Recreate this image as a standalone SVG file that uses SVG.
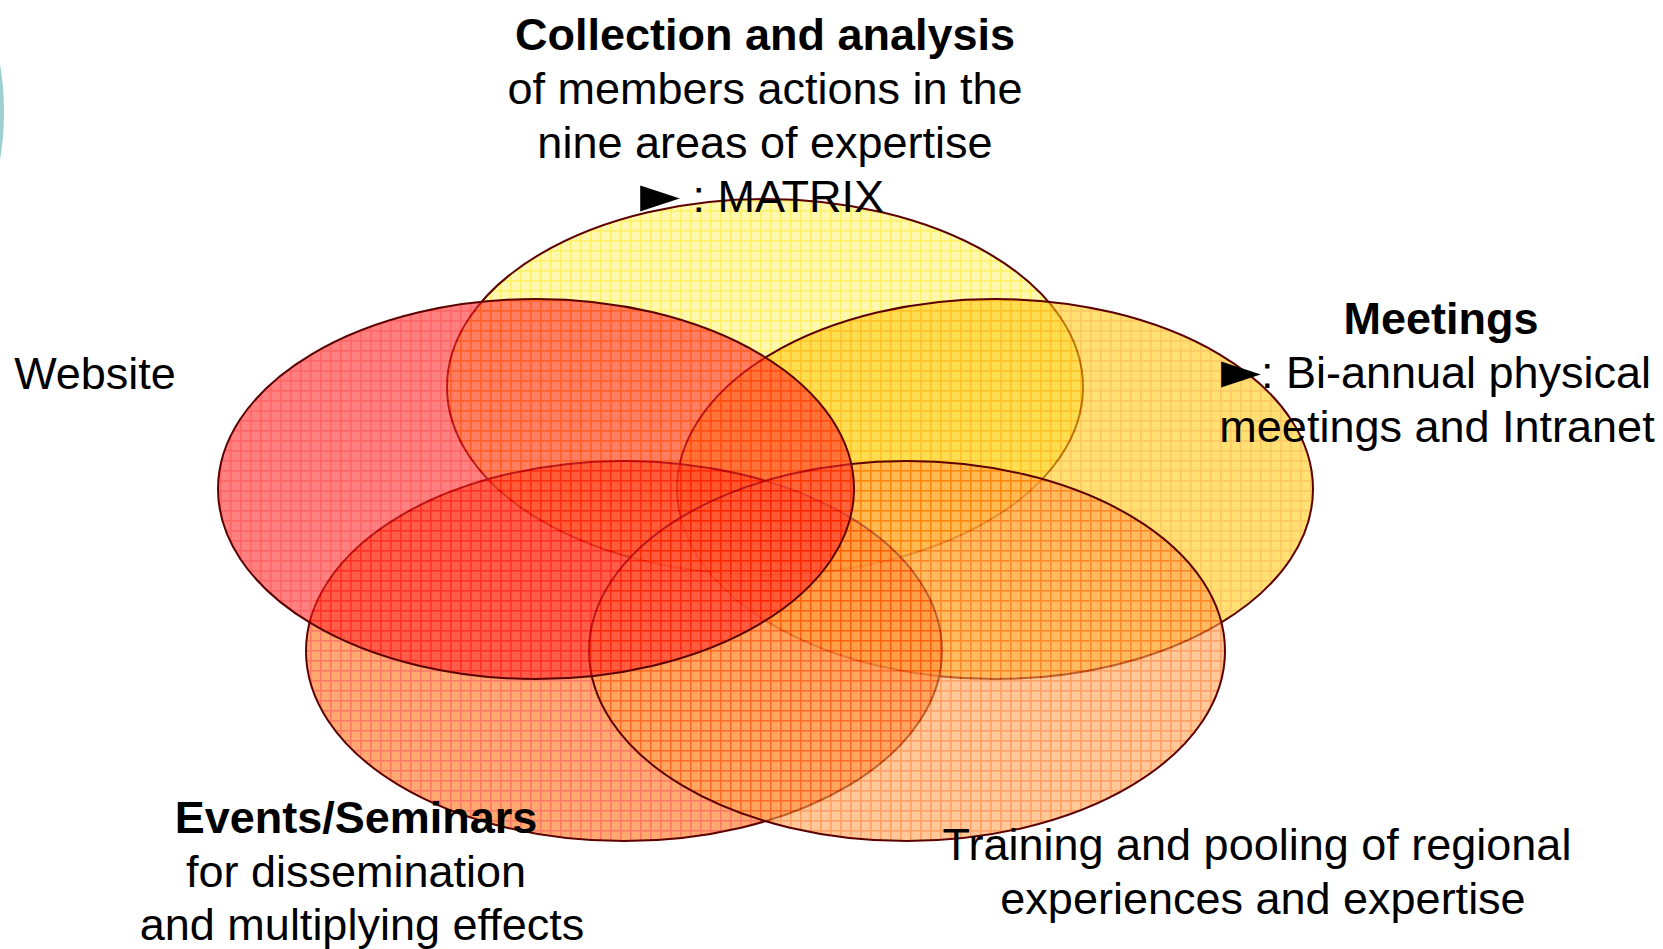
<svg xmlns="http://www.w3.org/2000/svg" width="1663" height="949" viewBox="0 0 1663 949">
  <defs>
    <pattern id="pCollection" patternUnits="userSpaceOnUse" width="10" height="10">
      <rect width="10" height="10" fill="#fff37b"/>
      <rect width="10" height="1.6" fill="#ffe600"/>
      <rect width="1.6" height="10" fill="#ffe600"/>
    </pattern>
    <pattern id="pWebsite" patternUnits="userSpaceOnUse" width="10" height="10">
      <rect width="10" height="10" fill="#ff2b2b"/>
      <rect width="10" height="1.6" fill="#ff0000"/>
      <rect width="1.6" height="10" fill="#ff0000"/>
    </pattern>
    <pattern id="pMeetings" patternUnits="userSpaceOnUse" width="10" height="10">
      <rect width="10" height="10" fill="#ffcb11"/>
      <rect width="10" height="1.6" fill="#ffa300"/>
      <rect width="1.6" height="10" fill="#ffa300"/>
    </pattern>
    <pattern id="pEvents" patternUnits="userSpaceOnUse" width="10" height="10">
      <rect width="10" height="10" fill="#ff6e11"/>
      <rect width="10" height="1.6" fill="#ff2100"/>
      <rect width="1.6" height="10" fill="#ff2100"/>
    </pattern>
    <pattern id="pTraining" patternUnits="userSpaceOnUse" width="10" height="10">
      <rect width="10" height="10" fill="#ffa353"/>
      <rect width="10" height="1.6" fill="#ff6100"/>
      <rect width="1.6" height="10" fill="#ff6100"/>
    </pattern>
  </defs>
  <style>
    .ell { fill-opacity: 0.6; stroke: #5c0000; stroke-width: 2; }
    .t { font-family: "Liberation Sans", "DejaVu Sans", Arial, sans-serif; font-size: 45px; fill: #000; }
    .b { font-weight: bold; }
    .c { text-anchor: middle; }
    .tri { font-family: "DejaVu Sans", sans-serif; font-size: 52px; }
  </style>
  <rect width="1663" height="949" fill="#ffffff"/>
  <circle cx="-288" cy="112" r="290" fill="none" stroke="#9fd0d0" stroke-width="4"/>

  <g id="shapes">
    <ellipse id="ellipse-collection" class="ell" cx="765" cy="387" rx="318" ry="188" fill="url(#pCollection)"/>
    <ellipse id="ellipse-meetings" class="ell" cx="995" cy="489" rx="318" ry="190" fill="url(#pMeetings)"/>
    <ellipse id="ellipse-events" class="ell" cx="624" cy="651" rx="318" ry="190" fill="url(#pEvents)"/>
    <ellipse id="ellipse-training" class="ell" cx="907" cy="651" rx="318" ry="190" fill="url(#pTraining)"/>
    <ellipse id="ellipse-website" class="ell" cx="536" cy="489" rx="318" ry="190" fill="url(#pWebsite)"/>
  </g>

  <g id="connectors"></g>

  <g id="node-collection">
    <text class="t b c" x="765" y="50">Collection and analysis</text>
    <text class="t c" x="765" y="104">of members actions in the</text>
    <text class="t c" x="765" y="158">nine areas of expertise</text>
    <text class="t c" x="762" y="212"><tspan class="tri">►</tspan> : MATRIX</text>
  </g>
  <g id="node-website">
    <text class="t c" x="95" y="389">Website</text>
  </g>
  <g id="node-meetings">
    <text class="t b c" x="1441" y="334">Meetings</text>
    <text class="t c" x="1436" y="388"><tspan class="tri">►</tspan>: Bi-annual physical</text>
    <text class="t c" x="1437" y="442">meetings and Intranet</text>
  </g>
  <g id="node-events">
    <text class="t b c" x="356" y="833">Events/Seminars</text>
    <text class="t c" x="356" y="887">for dissemination</text>
    <text class="t c" x="362" y="940">and multiplying effects</text>
  </g>
  <g id="node-training">
    <text class="t c" x="1257" y="860">Training and pooling of regional</text>
    <text class="t c" x="1263" y="914">experiences and expertise</text>
  </g>
</svg>
